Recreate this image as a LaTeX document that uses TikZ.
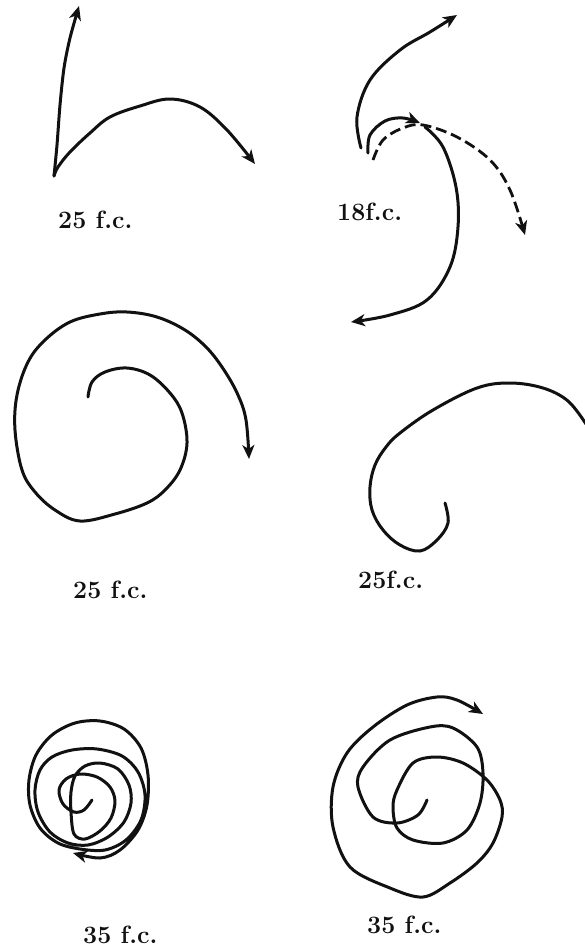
\documentclass[tikz,border=0pt]{standalone}
\usepackage{tikz}
\usepackage{xcolor}
\usetikzlibrary{arrows.meta}
\definecolor{ink}{HTML}{111111}
\tikzset{
  track/.style={draw=ink,line width=3pt,line cap=round,line join=round},
  dashtrack/.style={draw=ink,line width=2.8pt,dash pattern=on 11pt off 5pt},
  tipped/.style={-{Stealth[length=14pt,width=12pt,inset=4pt]}},
  fclabel/.style={anchor=base west,inner sep=0pt,text=ink,
                  font=\fontsize{25}{30}\selectfont\bfseries}
}
\begin{document}
\begin{tikzpicture}[x=1pt,y=-1pt]
    \path[use as bounding box] (0,0) rectangle (585,951);
    \draw[track,tipped] plot[smooth,tension=0.5] coordinates
      {(54,176) (57,145) (60,105) (64,68) (70,38) (79,6)};
    \draw[track,tipped] plot[smooth,tension=0.6] coordinates
      {(54,176) (58,167) (70,152) (90,133) (110,117) (140,106) (170,99)
       (200,107) (227,130) (255,164)};
    \node[fclabel] (lbla) at (58,228) {25 f.c.};

    \draw[track,tipped] plot[smooth,tension=0.6] coordinates
      {(361,148) (357,117) (370,80) (400,50) (430,32) (457,15)};
    \draw[track,tipped] plot[smooth,tension=0.6] coordinates
      {(368,153) (370,135) (385,121) (403,118) (420,123)};
    \draw[track,tipped] plot[smooth,tension=0.6] coordinates
      {(425,127) (443,147) (456,187) (458,227) (450,267) (427,300)
       (390,315) (351,322)};
    \draw[dashtrack,tipped] plot[smooth,tension=0.6] coordinates
      {(373,160) (383,140) (403,128) (423,125) (457,137) (490,160)
       (510,190) (525,235)};
    \node[fclabel] (lblb) at (337,220) {18f.c.};

    \draw[track,tipped] plot[smooth,tension=0.6] coordinates
      {(88,397) (92,382) (105,372) (127,368) (150,375) (170,393) (182,413)
       (187,443) (180,470) (165,490) (147,503) (115,514) (80,521) (55,510)
       (35,492) (22,470) (15,430) (17,395) (28,362) (45,340) (70,322)
       (100,314) (127,312) (157,317) (185,330) (207,348) (224,370)
       (238,395) (246,420) (249,459)};
    \node[fclabel] (lblc) at (73,598) {25 f.c.};

    \draw[track] plot[smooth,tension=0.6] coordinates
      {(445,503) (448,523) (437,540) (420,551) (400,545) (383,530) (372,510)
       (370,487) (375,465) (386,447) (400,433) (433,410) (477,388) (510,383)
       (543,388) (568,401) (586,424)};
    \node[fclabel] (lbld) at (358,588) {25f.c.};

    \draw[track,tipped] plot[smooth,tension=0.55] coordinates
      {(92,800) (84,810) (74,812) (63,804) (59,790) (66,779) (80,774)
       (97,777) (110,787) (115,801) (111,818) (100,831) (85,839) (74,834)
       (71,812) (71,792) (75,776) (85,766) (100,763) (118,769) (129,785)
       (131,803) (124,822) (108,837) (88,845) (68,843) (50,832) (38,812)
       (35,790) (40,770) (52,757) (72,750) (97,749) (122,756) (138,772)
       (145,795) (141,820) (126,840) (105,850) (80,849) (58,843) (40,828)
       (30,805) (29,780) (36,755) (52,735) (75,723) (100,721) (124,729)
       (141,748) (148,775) (147,805) (138,830) (120,850) (100,858)
       (73,853)};
    \node[fclabel] (lble) at (83,943) {35 f.c.};

    \draw[track,tipped] plot[smooth,tension=0.55] coordinates
      {(427,800) (418,815) (397,823) (373,817) (358,787) (363,767) (390,740)
       (430,727) (453,728) (477,747) (483,773) (480,803) (467,830)
       (443,843) (413,840) (397,828) (393,807) (397,790) (413,763)
       (437,757) (463,763) (487,780) (500,800) (502,817) (493,843)
       (477,863) (450,883) (423,897) (390,888) (350,867) (333,827)
       (333,787) (347,753) (373,727) (407,705) (437,697) (457,700)
       (483,714)};
    \node[fclabel] (lblf) at (367,933) {35 f.c.};
  \end{tikzpicture}
\end{document}
